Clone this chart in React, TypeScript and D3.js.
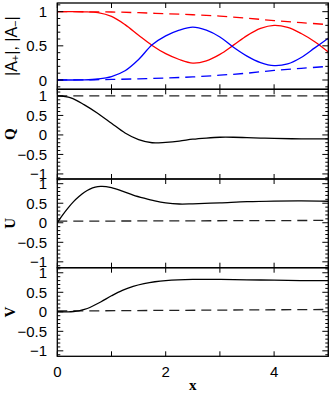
import React from "react";
import { scaleLinear, line, curveCatmullRom, range } from "d3";

// panel 1 : |A+| (red) and |A-| (blue), solid and dashed
const xAmp = [0, 0.25, 0.5, 0.75, 1, 1.25, 1.5, 1.75, 2, 2.25, 2.5, 2.75, 3, 3.25, 3.5, 3.75, 4, 4.25, 4.5, 4.75, 5];
const aPlus = [1, 1, 0.998, 0.985, 0.93, 0.81, 0.655, 0.505, 0.385, 0.3, 0.248, 0.28, 0.375, 0.51, 0.65, 0.755, 0.8, 0.77, 0.68, 0.56, 0.41];
const aMinus = [0, 0, 0.002, 0.015, 0.05, 0.135, 0.3, 0.515, 0.645, 0.73, 0.775, 0.73, 0.63, 0.48, 0.35, 0.255, 0.21, 0.235, 0.33, 0.47, 0.61];
const xAmpRef = [0, 0.5, 1, 1.5, 2, 2.5, 3, 3.5, 4, 4.5, 5];
const aPlusRef = [1, 0.999, 0.995, 0.985, 0.97, 0.955, 0.935, 0.905, 0.87, 0.84, 0.81];
const aMinusRef = [0, 0.002, 0.008, 0.018, 0.03, 0.045, 0.07, 0.1, 0.14, 0.17, 0.2];

// Stokes panels
const xQ = [0, 0.25, 0.5, 0.75, 1, 1.25, 1.5, 1.75, 2, 2.25, 2.5, 2.75, 3, 3.25, 3.5, 3.75, 4, 4.5, 5];
const qVals = [1, 0.95, 0.77, 0.55, 0.3, 0.05, -0.12, -0.2, -0.19, -0.16, -0.11, -0.08, -0.06, -0.06, -0.07, -0.08, -0.09, -0.1, -0.1];
const xU = [0, 0.1, 0.2, 0.3, 0.4, 0.5, 0.6, 0.7, 0.8, 0.9, 1, 1.2, 1.4, 1.6, 1.8, 2, 2.25, 2.5, 3, 3.5, 4, 4.5, 5];
const uVals = [0, 0.2, 0.38, 0.54, 0.67, 0.78, 0.86, 0.91, 0.93, 0.925, 0.9, 0.81, 0.71, 0.63, 0.56, 0.51, 0.48, 0.485, 0.51, 0.54, 0.555, 0.56, 0.55];
const xV = [0, 0.2, 0.3, 0.4, 0.5, 0.6, 0.8, 1, 1.2, 1.4, 1.6, 1.8, 2, 2.5, 3, 3.5, 4, 4.5, 5];
const vVals = [0, 0, 0.008, 0.025, 0.06, 0.11, 0.25, 0.41, 0.55, 0.65, 0.72, 0.77, 0.8, 0.83, 0.83, 0.82, 0.81, 0.8, 0.8];
const xRef = [0, 5];
const qRef = [1, 1];
const uRef = [0.04, 0.06];
const vRef = [0.02, 0.06];

const xTicks = [0, 1, 2, 3, 4, 5];
const xTickLabels = [0, 2, 4];

const W = 330;
const H = 393;
const x = scaleLinear().domain([0, 5]).range([57.3, 328.3]);

const panels = [
  {
    top: 3, bottom: 89.3, domain: [-0.136, 1.127], ticks: [0, 0.5, 1],
    label: "amp",
    series: [
      { xs: xAmpRef, ys: aPlusRef, color: "#f00", dash: "10,6" },
      { xs: xAmpRef, ys: aMinusRef, color: "#00f", dash: "10,6" },
      { xs: xAmp, ys: aPlus, color: "#f00", dash: null },
      { xs: xAmp, ys: aMinus, color: "#00f", dash: null },
    ],
  },
  {
    top: 89.3, bottom: 179, domain: [-1.13, 1.17], ticks: [-1, -0.5, 0, 0.5, 1],
    label: "Q",
    series: [
      { xs: xRef, ys: qRef, color: "#222", dash: "10,6" },
      { xs: xQ, ys: qVals, color: "#000", dash: null },
    ],
  },
  {
    top: 179, bottom: 267.7, domain: [-1.15, 1.12], ticks: [-1, -0.5, 0, 0.5, 1],
    label: "U",
    series: [
      { xs: xRef, ys: uRef, color: "#222", dash: "10,6" },
      { xs: xU, ys: uVals, color: "#000", dash: null },
    ],
  },
  {
    top: 267.7, bottom: 356.3, domain: [-1.14, 1.13], ticks: [-1, -0.5, 0, 0.5, 1],
    label: "V",
    series: [
      { xs: xRef, ys: vRef, color: "#222", dash: "10,6" },
      { xs: xV, ys: vVals, color: "#000", dash: null },
    ],
  },
];

const fmt = (v: number) => (v < 0 ? "\u2212" + Math.abs(v) : String(v));
const sans = "'Liberation Sans', Arial, sans-serif";
const serif = "'Liberation Serif', 'DejaVu Serif', serif";

const Panel = ({ p }: { p: any }) => {
  const y = scaleLinear().domain(p.domain).range([p.bottom, p.top]);
  const [x0, x1] = x.range();
  const minor = range(Math.ceil(p.domain[0] * 10), Math.floor(p.domain[1] * 10) + 1).map((d) => d / 10);
  const gen = line<number>().curve(curveCatmullRom.alpha(0.5));
  const mid = (p.top + p.bottom) / 2;
  return (
    <g>
      <defs>
        <clipPath id={"clip" + p.label}>
          <rect x={x0} y={p.top} width={x1 - x0} height={p.bottom - p.top} />
        </clipPath>
      </defs>
      <g clipPath={`url(#clip${p.label})`}>
        {p.series.map((s: any, i: number) => (
          <path
            key={i}
            d={gen.x((_, j) => x(s.xs[j])).y((d) => y(d))(s.ys) || ""}
            fill="none"
            stroke={s.color}
            strokeWidth={1.3}
            strokeDasharray={s.dash || undefined}
          />
        ))}
      </g>
      {minor.map((v) => {
        const major = Math.abs(v * 2 - Math.round(v * 2)) < 1e-6;
        const len = major ? 6 : 3;
        return (
          <g key={v} stroke="#000" strokeWidth={1}>
            <line x1={x0} x2={x0 + len} y1={y(v)} y2={y(v)} />
            <line x1={x1} x2={x1 - len} y1={y(v)} y2={y(v)} />
          </g>
        );
      })}
      {xTicks.map((t) => (
        <g key={t} stroke="#000" strokeWidth={1}>
          <line x1={x(t)} x2={x(t)} y1={p.bottom} y2={p.bottom - 5} />
          <line x1={x(t)} x2={x(t)} y1={p.top} y2={p.top + 5} />
        </g>
      ))}
      <rect x={x0} y={p.top} width={x1 - x0} height={p.bottom - p.top} fill="none" stroke="#000" strokeWidth={1.3} />
      {p.ticks.map((t: number) => (
        <text key={t} x={47} y={y(t)} textAnchor="end" dominantBaseline="central" fontFamily={sans} fontSize={15}>
          {fmt(t)}
        </text>
      ))}
      {p.label === "amp" ? (
        <text transform={`translate(11,${mid}) rotate(-90)`} textAnchor="middle" dominantBaseline="central" fontFamily={sans} fontSize={16}>
          |A<tspan fontSize={11} dy={4}>+</tspan><tspan dy={-4}>|, |A</tspan><tspan fontSize={11} dy={4}>−</tspan><tspan dy={-4}>|</tspan>
        </text>
      ) : (
        <text transform={`translate(10,${mid}) rotate(-90)`} textAnchor="middle" dominantBaseline="central" fontFamily={serif} fontWeight="bold" fontSize={15}>
          {p.label}
        </text>
      )}
    </g>
  );
};

export default function App() {
  const last = panels[panels.length - 1];
  return (
    <svg width={W} height={H} style={{ position: "absolute", left: 0, top: 0, background: "#fff" }}>
      {panels.map((p) => (
        <Panel key={p.label} p={p} />
      ))}
      {xTickLabels.map((t) => (
        <text key={t} x={x(t)} y={last.bottom + 15} textAnchor="middle" dominantBaseline="central" fontFamily={sans} fontSize={15}>
          {t}
        </text>
      ))}
      <text x={(x.range()[0] + x.range()[1]) / 2} y={last.bottom + 29} textAnchor="middle" dominantBaseline="central" fontFamily={serif} fontWeight="bold" fontSize={15}>
        x
      </text>
    </svg>
  );
}
